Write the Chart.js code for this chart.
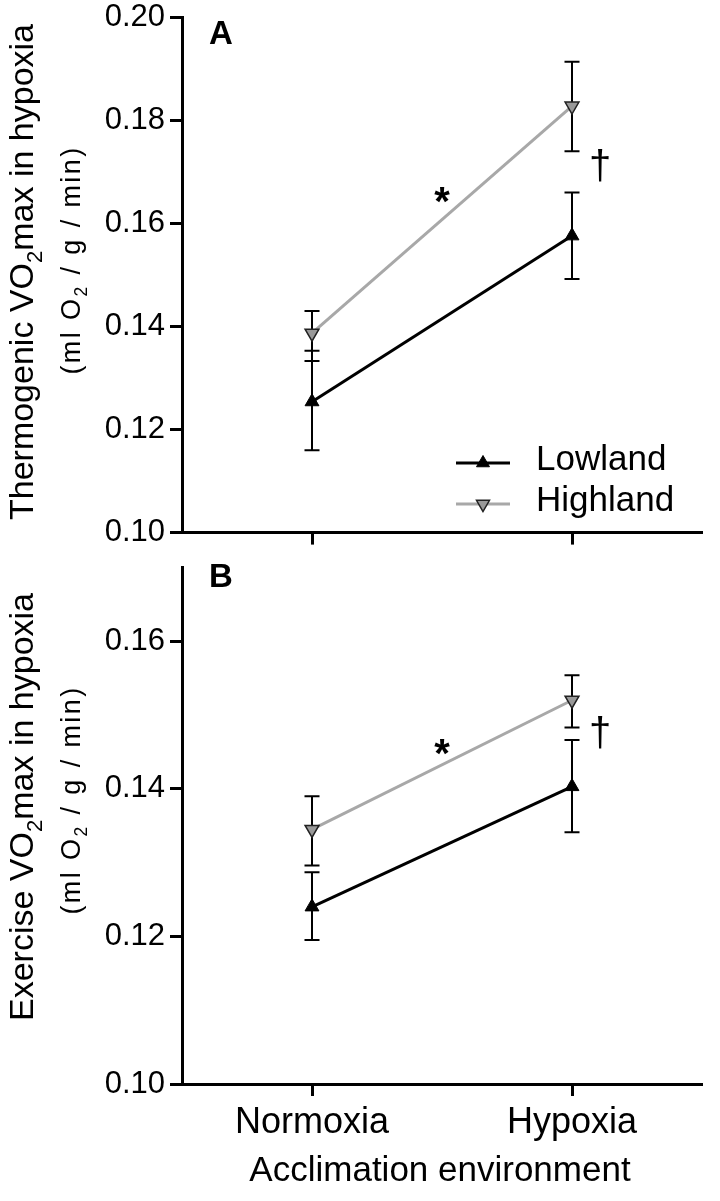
<!DOCTYPE html>
<html>
<head>
<meta charset="utf-8">
<script src="https://cdn.jsdelivr.net/npm/chart.js@4.4.0/dist/chart.umd.min.js"></script>
<style>
  body { margin: 0; background: #fff; }
  #wrap { position: relative; width: 720px; height: 1201px; }
  canvas { position: absolute; left: 0; }
</style>
</head>
<body>
<div id="wrap">
  <canvas id="chartA" width="720" height="550" style="top:0"></canvas>
  <canvas id="chartB" width="720" height="651" style="top:550px"></canvas>
</div>
<script>
const categories = ['Normoxia', 'Hypoxia'];

// Panel A - thermogenic VO2max
const thermoLowland = [0.1254, 0.1576];
const thermoLowlandLow = [0.1160, 0.1492];
const thermoLowlandHigh = [0.1353, 0.1660];
const thermoHighland = [0.1387, 0.1828];
const thermoHighlandLow = [0.1333, 0.1740];
const thermoHighlandHigh = [0.1430, 0.1914];
const thermoTicks = [0.10, 0.12, 0.14, 0.16, 0.18, 0.20];

// Panel B - exercise VO2max
const exerLowland = [0.1240, 0.1403];
const exerLowlandLow = [0.1195, 0.1341];
const exerLowlandHigh = [0.1287, 0.1466];
const exerHighland = [0.1345, 0.1520];
const exerHighlandLow = [0.1296, 0.1483];
const exerHighlandHigh = [0.1390, 0.1554];
const exerTicks = [0.10, 0.12, 0.14, 0.16];

const fam = "'Liberation Sans', Arial, sans-serif";

function toPoints(vals) {
    return vals.map((v, i) => ({ x: i, y: v }));
}

// error bars drawn under the markers
const errorBars = {
    id: 'errorBars',
    beforeDatasetsDraw(chart) {
        const ctx = chart.ctx;
        const y = chart.scales.y;
        ctx.save();
        ctx.strokeStyle = '#000';
        ctx.lineWidth = 2;
        chart.data.datasets.forEach((ds, di) => {
            const meta = chart.getDatasetMeta(di);
            meta.data.forEach((pt, i) => {
                const top = y.getPixelForValue(ds.errHigh[i]);
                const bot = y.getPixelForValue(ds.errLow[i]);
                ctx.beginPath();
                ctx.moveTo(pt.x, top); ctx.lineTo(pt.x, bot);
                ctx.moveTo(pt.x - 7.5, top); ctx.lineTo(pt.x + 7.5, top);
                ctx.moveTo(pt.x - 7.5, bot); ctx.lineTo(pt.x + 7.5, bot);
                ctx.stroke();
            });
        });
        ctx.restore();
    }
};

function triangle(ctx, x, y, r, rot) {
    let rad = rot * Math.PI / 180;
    ctx.beginPath();
    ctx.moveTo(x + Math.sin(rad) * r, y - Math.cos(rad) * r);
    rad += 2 * Math.PI / 3;
    ctx.lineTo(x + Math.sin(rad) * r, y - Math.cos(rad) * r);
    rad += 2 * Math.PI / 3;
    ctx.lineTo(x + Math.sin(rad) * r, y - Math.cos(rad) * r);
    ctx.closePath();
}

// text with a subscript part, rotated for the y titles
function drawParts(ctx, parts, size, cx, cy, spacing, rotate) {
    ctx.save();
    ctx.translate(cx, cy);
    if (rotate) ctx.rotate(-Math.PI / 2);
    ctx.letterSpacing = spacing + 'px';
    ctx.textBaseline = 'alphabetic';
    ctx.textAlign = 'left';
    ctx.fillStyle = '#000';
    let total = 0;
    const widths = parts.map((t, i) => {
        ctx.font = (i % 2 ? size * 0.65 : size) + 'px ' + fam;
        const w = ctx.measureText(t).width;
        total += w;
        return w;
    });
    let x = -total / 2;
    parts.forEach((t, i) => {
        ctx.font = (i % 2 ? size * 0.65 : size) + 'px ' + fam;
        ctx.fillText(t, x, i % 2 ? size * 0.25 : 0);
        x += widths[i];
    });
    ctx.restore();
}

function centeredGlyph(ctx, t, font, x, y) {
    ctx.font = font;
    const m = ctx.measureText(t);
    ctx.textAlign = 'center';
    ctx.textBaseline = 'alphabetic';
    ctx.fillText(t, x, y + (m.actualBoundingBoxAscent - m.actualBoundingBoxDescent) / 2);
}

const panelText = {
    id: 'panelText',
    afterDraw(chart, args, o) {
        const ctx = chart.ctx;
        const xs = chart.scales.x, ys = chart.scales.y;
        ctx.save();
        ctx.fillStyle = '#000';
        drawParts(ctx, o.title, 34, 33, o.titleY, 0, true);
        drawParts(ctx, o.subtitle, 27, 80, o.subY, 2.4, true);

        ctx.font = 'bold 33px ' + fam;
        ctx.textAlign = 'left';
        ctx.textBaseline = 'alphabetic';
        ctx.fillText(o.letter, 209, o.letterY);

        o.marks.forEach(m => {
            const font = m.t === '*' ? 'bold 40px ' + fam : '40px ' + fam;
            centeredGlyph(ctx, m.t, font, xs.getPixelForValue(m.x), ys.getPixelForValue(m.y));
        });

        if (o.legend) {
            chart.data.datasets.forEach((ds, i) => {
                const ly = 463 + i * 41;
                ctx.strokeStyle = ds.borderColor;
                ctx.lineWidth = 3;
                ctx.beginPath();
                ctx.moveTo(456, ly); ctx.lineTo(510, ly);
                ctx.stroke();
                triangle(ctx, 483, ly, 7.5, ds.pointRotation || 0);
                ctx.fillStyle = ds.pointBackgroundColor;
                ctx.fill();
                ctx.strokeStyle = ds.pointBorderColor;
                ctx.lineWidth = ds.pointBorderWidth;
                ctx.stroke();
                ctx.fillStyle = '#000';
                ctx.font = '35px ' + fam;
                ctx.textAlign = 'left';
                ctx.textBaseline = 'alphabetic';
                ctx.fillText(ds.label, 536, ly + 7);
            });
        }

        if (o.xTitle) {
            ctx.font = '35px ' + fam;
            ctx.textAlign = 'center';
            ctx.textBaseline = 'alphabetic';
            ctx.fillText(o.xTitle, 440, o.xTitleY);
        }
        ctx.restore();
    }
};

function makeChart(id, p) {
    const axisGrid = { drawOnChartArea: false, drawTicks: true, tickLength: 12, tickWidth: 3, tickColor: '#000' };
    const axisBorder = { color: '#000', width: 3 };
    return new Chart(document.getElementById(id), {
        type: 'line',
        data: {
            datasets: [{
                label: 'Lowland',
                data: toPoints(p.low),
                errLow: p.lowLo,
                errHigh: p.lowHi,
                borderColor: '#000',
                borderWidth: 3,
                pointStyle: 'triangle',
                pointRadius: 8,
                pointBackgroundColor: '#000',
                pointBorderColor: '#000',
                pointBorderWidth: 1
            }, {
                label: 'Highland',
                data: toPoints(p.high),
                errLow: p.highLo,
                errHigh: p.highHi,
                borderColor: '#a8a8a8',
                borderWidth: 3,
                pointStyle: 'triangle',
                pointRotation: 180,
                pointRadius: 8,
                pointBackgroundColor: '#999999',
                pointBorderColor: '#222',
                pointBorderWidth: 1.5
            }]
        },
        options: {
            responsive: false,
            animation: false,
            events: [],
            layout: { padding: { left: 0, right: 18, top: p.padTop, bottom: 0 } },
            plugins: {
                legend: { display: false },
                tooltip: { enabled: false },
                panelText: p.text
            },
            scales: {
                x: {
                    type: 'linear',
                    min: -0.5,
                    max: 1.5,
                    afterBuildTicks: s => { s.ticks = categories.map((c, i) => ({ value: i })); },
                    afterFit: s => { s.height = p.xHeight; },
                    ticks: {
                        autoSkip: false,
                        maxRotation: 0,
                        padding: 5,
                        color: '#000',
                        font: { family: fam, size: 36 },
                        callback: v => (p.showCats ? categories[v] : '')
                    },
                    grid: axisGrid,
                    border: axisBorder
                },
                y: {
                    min: p.ticks[0],
                    max: p.max,
                    afterBuildTicks: s => { s.ticks = p.ticks.map(v => ({ value: v })); },
                    afterFit: s => { s.width = 182; },
                    ticks: {
                        padding: 5,
                        color: '#000',
                        font: { family: fam, size: 31, lineHeight: 0.8 },
                        callback: v => v.toFixed(2)
                    },
                    grid: axisGrid,
                    border: axisBorder
                }
            }
        },
        plugins: [errorBars, panelText]
    });
}

makeChart('chartA', {
    low: thermoLowland, lowLo: thermoLowlandLow, lowHi: thermoLowlandHigh,
    high: thermoHighland, highLo: thermoHighlandLow, highHi: thermoHighlandHigh,
    ticks: thermoTicks, max: 0.20, padTop: 15, xHeight: 16, showCats: false,
    text: {
        title: ['Thermogenic VO', '2', 'max in hypoxia'], titleY: 272,
        subtitle: ['(ml O', '2', ' / g / min)'], subY: 260,
        letter: 'A', letterY: 44,
        marks: [{ t: '*', x: 0.5, y: 0.1655 }, { t: '\u2020', x: 1.108, y: 0.1712 }],
        legend: true
    }
});

makeChart('chartB', {
    low: exerLowland, lowLo: exerLowlandLow, lowHi: exerLowlandHigh,
    high: exerHighland, highLo: exerHighlandLow, highHi: exerHighlandHigh,
    ticks: exerTicks, max: 0.17, padTop: 13, xHeight: 117, showCats: true,
    text: {
        title: ['Exercise VO', '2', 'max in hypoxia'], titleY: 257,
        subtitle: ['(ml O', '2', ' / g / min)'], subY: 250,
        letter: 'B', letterY: 37,
        marks: [{ t: '*', x: 0.5, y: 0.1457 }, { t: '\u2020', x: 1.108, y: 0.1476 }],
        legend: false,
        xTitle: 'Acclimation environment', xTitleY: 631
    }
});
</script>
</body>
</html>
